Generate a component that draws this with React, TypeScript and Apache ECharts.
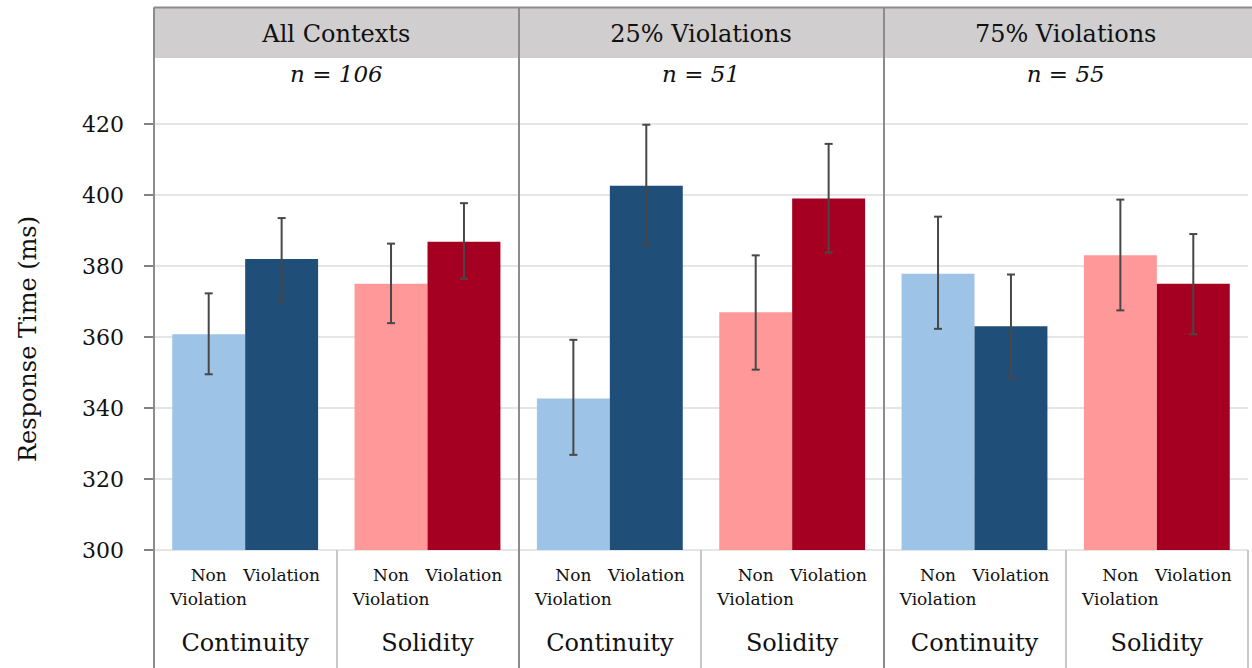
import React, { useEffect, useRef } from "react";
import * as echarts from "echarts";

const panels = ["All Contexts", "25% Violations", "75% Violations"];
const panelN = ["n = 106", "n = 51", "n = 55"];
const groups = ["Continuity", "Solidity", "Continuity", "Solidity", "Continuity", "Solidity"];
const seriesNames = ["Non Violation", "Violation"];
const nonViolation = [360.8, 375, 342.7, 367, 377.8, 383];
const violation = [382, 386.8, 402.6, 399, 363, 375];
const nvLow = [349.5, 363.9, 326.8, 350.8, 362.3, 367.5];
const nvHigh = [372.3, 386.3, 359.2, 383, 393.9, 398.7];
const vLow = [370.2, 376.4, 385.8, 383.8, 348.4, 360.8];
const vHigh = [393.5, 397.7, 419.8, 414.4, 377.6, 389];
const yTicks = [300, 320, 340, 360, 380, 400, 420];

const COLORS: Record<string, [string, string]> = {
  Continuity: ["#9DC3E6", "#1F4E79"],
  Solidity: ["#FF9999", "#A50021"],
};

const FONT = "DejaVu Serif";
const W = 1252;
const H = 668;
const G_LEFT = 154;
const G_RIGHT = 4;
const G_TOP = 8;
const G_BOTTOM = 118;
const BAR_FRAC = 0.8;

function errSeries(lo: number[], hi: number[], side: number) {
  return {
    type: "custom",
    xAxisIndex: 0,
    yAxisIndex: 0,
    z: 5,
    data: lo.map((l, i) => [i, l, hi[i]]),
    encode: { x: 0, y: [1, 2] },
    renderItem: (params: any, api: any) => {
      const idx = api.value(0);
      const top = api.coord([idx, api.value(2)]);
      const bot = api.coord([idx, api.value(1)]);
      const bw = (api.size([1, 0])[0] * BAR_FRAC) / 2;
      const x = top[0] + side * bw / 2;
      const cap = 4;
      const st = { stroke: "#474747", lineWidth: 2 };
      return {
        type: "group",
        children: [
          { type: "line", shape: { x1: x, y1: top[1], x2: x, y2: bot[1] }, style: st },
          { type: "line", shape: { x1: x - cap, y1: top[1], x2: x + cap, y2: top[1] }, style: st },
          { type: "line", shape: { x1: x - cap, y1: bot[1], x2: x + cap, y2: bot[1] }, style: st },
        ],
      };
    },
  };
}

export default function App() {
  const ref = useRef<HTMLDivElement>(null);
  useEffect(() => {
    document.body.style.margin = "0";
    const chart = echarts.init(ref.current!, null, { renderer: "svg" });
    const gridW = W - G_LEFT - G_RIGHT;
    const pw = gridW / panels.length;
    const yMax = 300 + (20 * (H - G_BOTTOM - G_TOP)) / 71;

    const graphic: any[] = [
      {
        type: "rect",
        z: 1,
        shape: { x: G_LEFT + 1, y: G_TOP, width: W - G_LEFT - 1, height: 50 },
        style: { fill: "#D0CECE" },
      },
      {
        type: "line",
        z: 10,
        shape: { x1: G_LEFT, y1: G_TOP - 0.5, x2: W, y2: G_TOP - 0.5 },
        style: { stroke: "#8C8C8C", lineWidth: 2 },
      },
      {
        type: "text",
        z: 10,
        x: 28,
        y: 339,
        rotation: Math.PI / 2,
        style: {
          text: "Response Time (ms)",
          font: `24px "${FONT}"`,
          fill: "#111",
          textAlign: "center",
          textVerticalAlign: "middle",
        },
      },
    ];
    panels.forEach((p, i) => {
      graphic.push({
        type: "text",
        z: 10,
        x: G_LEFT + pw * (i + 0.5),
        y: 34,
        style: { text: p, font: `24px "${FONT}"`, fill: "#111", textAlign: "center", textVerticalAlign: "middle" },
      });
      graphic.push({
        type: "text",
        z: 10,
        x: G_LEFT + pw * (i + 0.5),
        y: 74,
        style: {
          text: panelN[i],
          font: `italic 23px "${FONT}"`,
          fill: "#111",
          textAlign: "center",
          textVerticalAlign: "middle",
        },
      });
    });

    const barSeries = (vals: number[], si: number) => ({
      type: "bar",
      name: seriesNames[si],
      xAxisIndex: 0,
      yAxisIndex: 0,
      barGap: "0%",
      barCategoryGap: `${Math.round((1 - BAR_FRAC) * 100)}%`,
      z: 2,
      data: vals.map((v, i) => ({ value: v, itemStyle: { color: COLORS[groups[i]][si] } })),
      label: {
        show: true,
        position: "bottom",
        distance: 13,
        formatter: () => seriesNames[si].replace(" ", "\n"),
        fontFamily: FONT,
        fontSize: 17,
        lineHeight: 24,
        color: "#111",
        align: "center",
      },
    });

    chart.setOption({
      animation: false,
      textStyle: { fontFamily: FONT },
      grid: [
        { left: G_LEFT, right: G_RIGHT, top: G_TOP, bottom: G_BOTTOM },
        { left: G_LEFT, right: G_RIGHT, top: H - G_BOTTOM, bottom: 0 },
      ],
      xAxis: [
        {
          type: "category",
          gridIndex: 0,
          position: "bottom",
          data: groups,
          axisLine: { show: false },
          axisTick: { show: false },
          axisLabel: { fontFamily: FONT, fontSize: 24, color: "#111", margin: 81, interval: 0 },
          splitLine: { show: false },
        },
        {
          type: "category",
          gridIndex: 0,
          position: "top",
          data: panels,
          z: 6,
          axisLine: { show: false },
          axisTick: { show: false },
          axisLabel: { show: false },
          splitLine: { show: true, showMaxLine: false, interval: 0, lineStyle: { color: "#8C8C8C", width: 2 } },
        },
        {
          type: "category",
          gridIndex: 1,
          position: "bottom",
          data: groups,
          z: 4,
          axisLine: { show: false },
          axisTick: { show: false },
          axisLabel: { show: false },
          splitLine: { show: true, interval: 0, lineStyle: { color: "#C8C8C8", width: 2 } },
        },
        {
          type: "category",
          gridIndex: 1,
          position: "top",
          data: panels,
          z: 6,
          axisLine: { show: false },
          axisTick: { show: false },
          axisLabel: { show: false },
          splitLine: { show: true, showMaxLine: false, interval: 0, lineStyle: { color: "#8C8C8C", width: 2 } },
        },
      ],
      yAxis: [
        {
          type: "value",
          gridIndex: 0,
          min: 300,
          max: yMax,
          interval: 20,
          z: 0,
          axisLine: { show: true, lineStyle: { color: "#8C8C8C", width: 2 } },
          axisTick: {
            show: true,
            length: 10,
            customValues: yTicks,
            lineStyle: { color: "#595959", width: 1.5 },
          },
          axisLabel: {
            customValues: yTicks,
            fontFamily: FONT,
            fontSize: 22,
            color: "#111",
            margin: 30,
            formatter: (v: number) => (v <= 420 ? String(v) : ""),
          },
          splitLine: { show: true, lineStyle: { color: "#DCDCDC", width: 1.5 } },
        },
        { type: "value", gridIndex: 1, show: false },
      ],
      series: [
        barSeries(nonViolation, 0),
        barSeries(violation, 1),
        errSeries(nvLow, nvHigh, -1),
        errSeries(vLow, vHigh, 1),
      ],
      graphic,
    });
    return () => chart.dispose();
  }, []);
  return <div ref={ref} style={{ width: W, height: H }} />;
}
